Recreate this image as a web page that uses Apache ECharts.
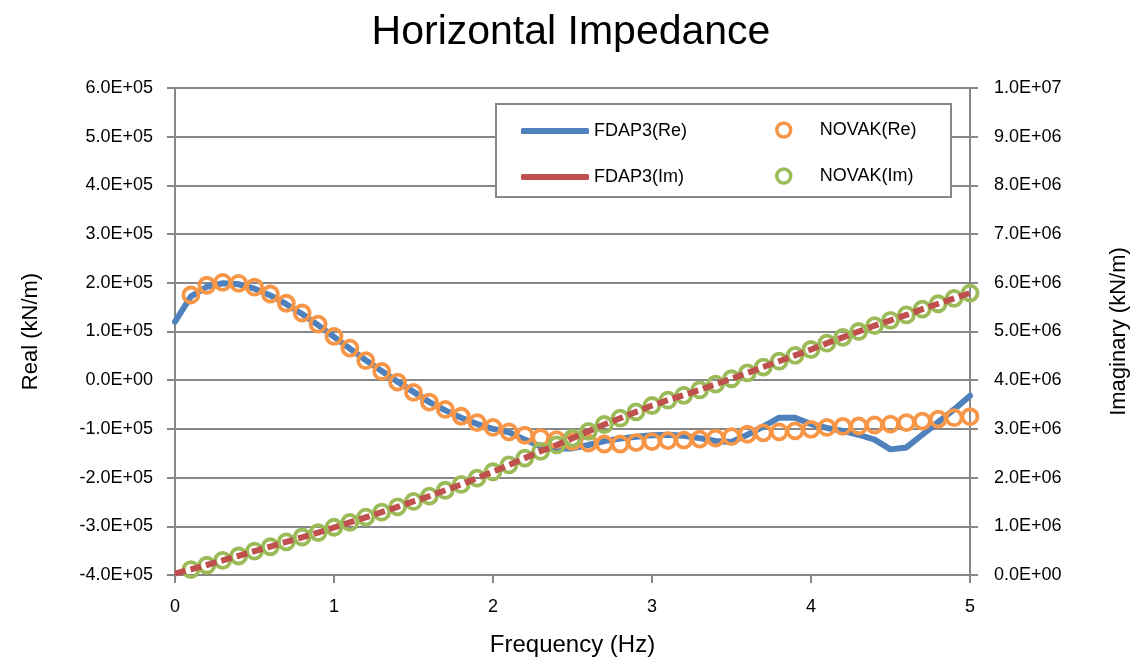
<!DOCTYPE html>
<html>
<head>
<meta charset="utf-8">
<script src="https://cdn.jsdelivr.net/npm/echarts@6/dist/echarts.min.js"></script>
<style>
html,body{margin:0;padding:0;background:#fff;}
#chart{width:1142px;height:659px;}
</style>
</head>
<body>
<div id="chart"></div>
<script>
var chartTitle = 'Horizontal Impedance';
var seriesNames = ['FDAP3(Re)', 'FDAP3(Im)', 'NOVAK(Re)', 'NOVAK(Im)'];

var fdapFreq = [0,0.1,0.2,0.3,0.4,0.5,0.6,0.7,0.8,0.9,1.0,1.1,1.2,1.3,1.4,1.5,1.6,1.7,1.8,1.9,2.0,2.1,2.2,2.3,2.4,2.5,2.6,2.7,2.8,2.9,3.0,3.1,3.2,3.3,3.4,3.5,3.6,3.7,3.8,3.9,4.0,4.1,4.2,4.3,4.4,4.5,4.6,4.7,4.8,4.9,5.0];
var novakFreq = [0.1,0.2,0.3,0.4,0.5,0.6,0.7,0.8,0.9,1.0,1.1,1.2,1.3,1.4,1.5,1.6,1.7,1.8,1.9,2.0,2.1,2.2,2.3,2.4,2.5,2.6,2.7,2.8,2.9,3.0,3.1,3.2,3.3,3.4,3.5,3.6,3.7,3.8,3.9,4.0,4.1,4.2,4.3,4.4,4.5,4.6,4.7,4.8,4.9,5.0];

var fdapRe = [120000,172000,192000,199000,197000,188000,174000,156000,136000,113000,89000,65000,41000,19000,-3000,-24000,-45000,-62000,-77000,-90000,-100000,-107000,-122000,-136000,-140000,-140000,-133000,-125000,-120000,-116000,-113000,-112000,-114000,-119000,-125000,-127000,-112000,-95000,-77000,-77000,-90000,-98000,-104000,-112000,-122000,-142000,-138000,-112000,-86000,-60000,-32000];
var fdapIm = [30000,115000,205000,300000,395000,490000,585000,680000,775000,870000,975000,1080000,1185000,1290000,1400000,1510000,1620000,1740000,1860000,1990000,2120000,2260000,2400000,2540000,2670000,2810000,2950000,3090000,3220000,3350000,3480000,3590000,3695000,3800000,3920000,4030000,4150000,4270000,4390000,4510000,4630000,4760000,4880000,5000000,5120000,5230000,5340000,5460000,5570000,5680000,5790000];
var novakRe = [175000,195000,201000,199000,191000,177000,158000,138000,115000,90000,66000,40000,18000,-4000,-25000,-45000,-60000,-74000,-87000,-97000,-106000,-113000,-118000,-122000,-126000,-129000,-131000,-131000,-128000,-126000,-124000,-123000,-121000,-119000,-116000,-111000,-108000,-106000,-104000,-101000,-97000,-95000,-94000,-92000,-90000,-87000,-84000,-80000,-77000,-75000];
var novakIm = [110000,200000,300000,390000,490000,580000,680000,780000,870000,980000,1080000,1190000,1290000,1400000,1510000,1620000,1740000,1860000,1990000,2120000,2260000,2400000,2540000,2670000,2810000,2950000,3090000,3220000,3350000,3480000,3590000,3690000,3800000,3920000,4030000,4150000,4270000,4390000,4510000,4630000,4760000,4880000,5000000,5120000,5230000,5340000,5460000,5570000,5680000,5790000];

function zip(xs, ys){ var out=[]; for (var i=0;i<xs.length;i++) out.push([xs[i], ys[i]]); return out; }
function sci(v){
  var s = Number(v).toExponential(1);
  var m = s.split('e');
  var exp = parseInt(m[1],10);
  var sign = exp < 0 ? '-' : '+';
  var a = Math.abs(exp);
  return m[0] + 'E' + sign + (a < 10 ? '0' + a : '' + a);
}

var FONT = 'Liberation Sans';
var GRAY = '#878787';
var C_BLUE = '#4F81BD', C_RED = '#C0504D', C_ORANGE = '#F79646', C_GREEN = '#9BBB59';

var legendText = {fontFamily: FONT, fontSize: 18, color: '#000'};
var legendTextPad = {fontFamily: FONT, fontSize: 18, color: '#000', padding: [0, 0, 0, 24]};

var chart = echarts.init(document.getElementById('chart'), null, {renderer:'canvas'});
var option = {
  backgroundColor: '#ffffff',
  animation: false,
  textStyle: {fontFamily: FONT},
  title: {
    text: chartTitle, left: 'center', top: 7,
    textStyle: {fontFamily: FONT, fontSize: 41, fontWeight: 'normal', color: '#000'}
  },
  grid: {left: 175, right: 172, top: 88, bottom: 84, containLabel: false, outerBoundsMode: 'none'},
  graphic: [{
    type: 'rect', z: 3, silent: true,
    shape: {x: 496, y: 104, width: 455, height: 93},
    style: {fill: '#fff', stroke: GRAY, lineWidth: 2}
  }],
  legend: [
    {data: [{name: seriesNames[0], icon: 'roundRect'}], left: 521, top: 122, padding: 0, itemWidth: 68, itemHeight: 6, z: 5,
     itemStyle: {color: C_BLUE, borderWidth: 0}, textStyle: legendText},
    {data: [{name: seriesNames[1], icon: 'roundRect'}], left: 521, top: 168, padding: 0, itemWidth: 68, itemHeight: 6, z: 5,
     itemStyle: {color: C_RED, borderWidth: 0}, textStyle: legendText},
    {data: [{name: seriesNames[2], icon: 'circle'}], left: 775, top: 121, padding: 0, itemWidth: 14, itemHeight: 14, z: 5,
     itemStyle: {color: '#fff', borderColor: C_ORANGE, borderWidth: 3.5}, textStyle: legendTextPad},
    {data: [{name: seriesNames[3], icon: 'circle'}], left: 775, top: 167, padding: 0, itemWidth: 14, itemHeight: 14, z: 5,
     itemStyle: {color: '#fff', borderColor: C_GREEN, borderWidth: 3.5}, textStyle: legendTextPad}
  ],
  xAxis: {
    type: 'value', min: 0, max: 5, interval: 1,
    name: 'Frequency (Hz)', nameLocation: 'middle', nameGap: 58,
    nameTextStyle: {fontFamily: FONT, fontSize: 24, color: '#000'},
    axisLine: {show: true, onZero: false, lineStyle: {color: GRAY, width: 2}},
    axisTick: {show: true, inside: false, length: 8, lineStyle: {color: GRAY, width: 2}},
    axisLabel: {fontFamily: FONT, fontSize: 18, color: '#000', margin: 23},
    splitLine: {show: false}
  },
  yAxis: [
    {
      type: 'value', min: -400000, max: 600000, interval: 100000, position: 'left',
      name: 'Real (kN/m)', nameLocation: 'middle', nameGap: 133, nameRotate: 90,
      nameTextStyle: {fontFamily: FONT, fontSize: 22, color: '#000'},
      axisLine: {show: true, onZero: false, lineStyle: {color: GRAY, width: 2}},
      axisTick: {show: true, inside: false, length: 8, lineStyle: {color: GRAY, width: 2}},
      axisLabel: {fontFamily: FONT, fontSize: 18, color: '#000', margin: 22, formatter: sci},
      splitLine: {show: true, lineStyle: {color: GRAY, width: 2}}
    },
    {
      type: 'value', min: 0, max: 10000000, interval: 1000000, position: 'right',
      name: 'Imaginary (kN/m)', nameLocation: 'middle', nameGap: 138, nameRotate: 90,
      nameTextStyle: {fontFamily: FONT, fontSize: 22, color: '#000'},
      axisLine: {show: true, onZero: false, lineStyle: {color: GRAY, width: 2}},
      axisTick: {show: true, inside: false, length: 8, lineStyle: {color: GRAY, width: 2}},
      axisLabel: {fontFamily: FONT, fontSize: 18, color: '#000', margin: 24, formatter: sci},
      splitLine: {show: false}
    }
  ],
  series: [
    {
      name: seriesNames[0], type: 'line', yAxisIndex: 0, z: 2,
      data: zip(fdapFreq, fdapRe), showSymbol: false, symbol: 'none',
      itemStyle: {color: C_BLUE},
      lineStyle: {color: C_BLUE, width: 6, cap: 'round', join: 'round'}
    },
    {
      name: seriesNames[1], type: 'line', yAxisIndex: 1, z: 4,
      data: zip(fdapFreq, fdapIm), showSymbol: false, symbol: 'none',
      itemStyle: {color: C_RED},
      lineStyle: {color: C_RED, width: 6, type: [11, 5], cap: 'butt', join: 'round'}
    },
    {
      name: seriesNames[2], type: 'scatter', yAxisIndex: 0, z: 3,
      data: zip(novakFreq, novakRe), symbol: 'circle', symbolSize: 15,
      itemStyle: {color: 'rgba(255,255,255,0)', opacity: 1, borderColor: C_ORANGE, borderWidth: 3.8}
    },
    {
      name: seriesNames[3], type: 'scatter', yAxisIndex: 1, z: 3,
      data: zip(novakFreq, novakIm), symbol: 'circle', symbolSize: 15,
      itemStyle: {color: 'rgba(255,255,255,0)', opacity: 1, borderColor: C_GREEN, borderWidth: 3.8}
    }
  ]
};
chart.setOption(option);
</script>
</body>
</html>
